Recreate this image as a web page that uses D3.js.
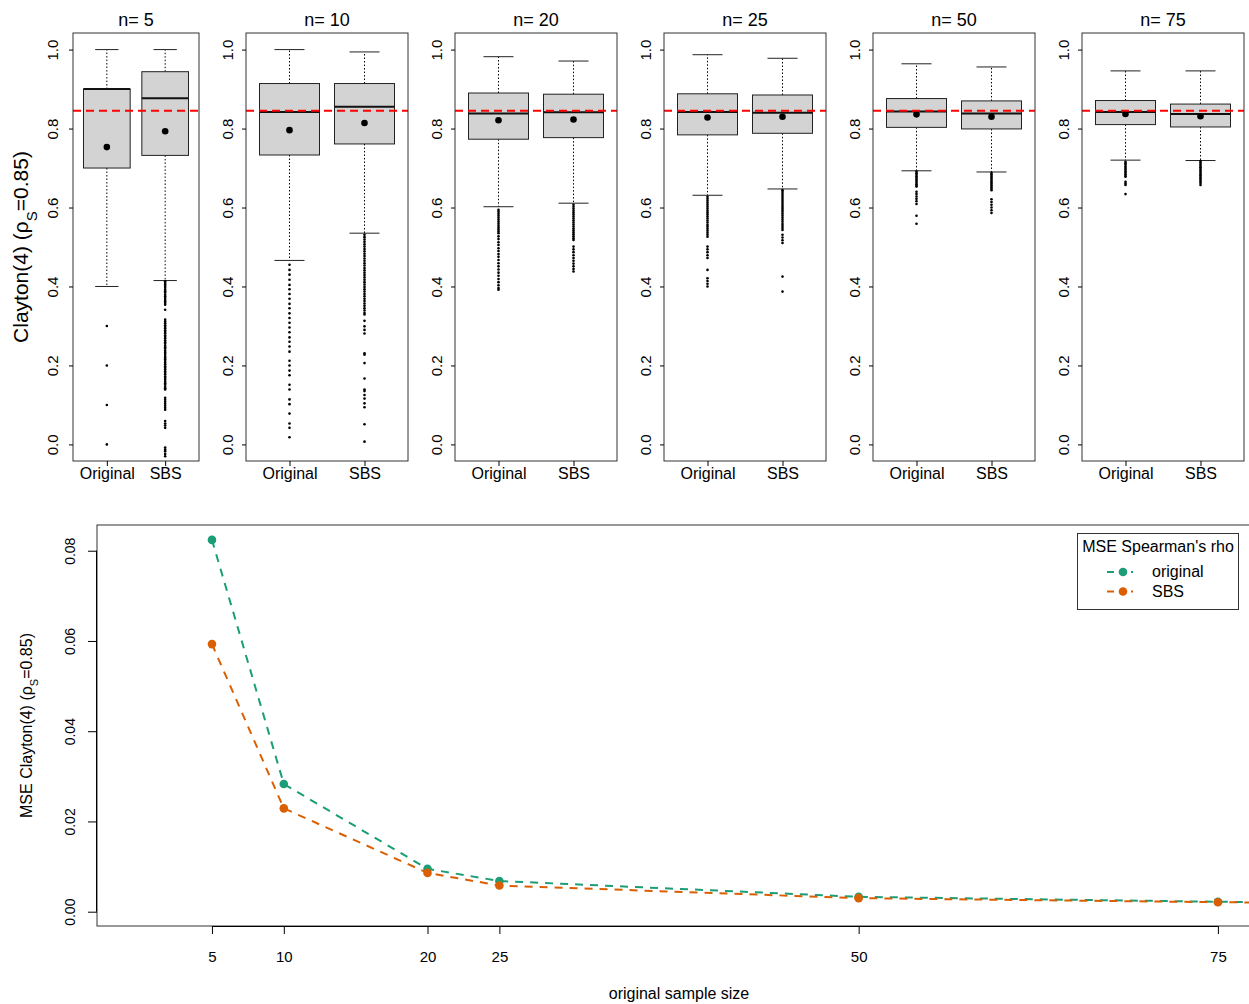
<!DOCTYPE html>
<html><head><meta charset="utf-8">
<script src="https://cdn.jsdelivr.net/npm/d3@7"></script>
<style>body{margin:0;background:#fff}svg{display:block}text{font-family:"Liberation Sans",Arial,Helvetica,sans-serif;fill:#000}</style>
</head><body><svg id="c" width="1249" height="1004"></svg>
<script>
// ---------- DATA ----------
const sampleSizes = [5, 10, 20, 25, 50, 75];
const groups = ["Original", "SBS"];
const trueRho = 0.845;
const yTicksTop = [0.0, 0.2, 0.4, 0.6, 0.8, 1.0];
// box stats [lowWhisker, q1, median, q3, highWhisker, mean]
const statsOriginal = [
  [0.40, 0.70, 0.90, 0.90, 1.00, 0.753],
  [0.466, 0.733, 0.842, 0.914, 1.00, 0.796],
  [0.602, 0.773, 0.838, 0.890, 0.982, 0.821],
  [0.631, 0.784, 0.842, 0.888, 0.987, 0.828],
  [0.693, 0.803, 0.843, 0.876, 0.964, 0.836],
  [0.720, 0.810, 0.842, 0.871, 0.946, 0.837]
];
const statsSBS = [
  [0.415, 0.732, 0.877, 0.944, 1.00, 0.793],
  [0.535, 0.761, 0.855, 0.914, 0.994, 0.814],
  [0.611, 0.777, 0.841, 0.887, 0.971, 0.823],
  [0.647, 0.788, 0.840, 0.885, 0.978, 0.830],
  [0.690, 0.799, 0.838, 0.870, 0.956, 0.830],
  [0.719, 0.804, 0.837, 0.862, 0.946, 0.831]
];
const outOriginal = [
  [0.3, 0.2, 0.1, 0.0],
  [0.455,0.442,0.430,0.417,0.404,0.393,0.381,0.369,0.356,0.345,0.332,0.320,0.308,0.296,0.284,0.271,0.260,0.248,0.235,0.212,0.200,0.187,0.175,0.151,0.139,0.114,0.102,0.078,0.053,0.042,0.018],
  [0.594,0.589,0.584,0.579,0.574,0.569,0.564,0.559,0.554,0.549,0.544,0.539,0.535,0.527,0.52,0.512,0.505,0.497,0.49,0.482,0.475,0.467,0.459,0.451,0.443,0.435,0.427,0.419,0.411,0.403,0.396,0.392],
  [0.627,0.622,0.617,0.612,0.607,0.602,0.597,0.592,0.587,0.582,0.577,0.572,0.567,0.562,0.556,0.551,0.546,0.541,0.536,0.531,0.526,0.501,0.494,0.487,0.479,0.472,0.442,0.421,0.414,0.407,0.4],
  [0.691,0.687,0.683,0.679,0.675,0.671,0.667,0.663,0.659,0.655,0.653,0.64,0.634,0.628,0.622,0.616,0.609,0.579,0.559],
  [0.716,0.712,0.708,0.704,0.7,0.696,0.692,0.688,0.684,0.68,0.678,0.665,0.661,0.657,0.634]
];
const outSBS = [
  [0.413,0.409,0.405,0.401,0.397,0.392,0.388,0.384,0.379,0.375,0.371,0.366,0.362,0.358,0.354,0.341,0.316,0.311,0.307,0.302,0.298,0.294,0.289,0.285,0.281,0.276,0.272,0.268,0.263,0.259,0.255,0.25,0.246,0.242,0.237,0.233,0.229,0.224,0.22,0.216,0.211,0.207,0.203,0.198,0.194,0.19,0.185,0.181,0.177,0.172,0.168,0.164,0.159,0.155,0.151,0.146,0.142,0.139,0.118,0.113,0.108,0.103,0.098,0.093,0.088,0.059,0.053,0.048,0.042,-0.008,-0.013,-0.017,-0.024,-0.03],
  [0.531,0.525,0.519,0.513,0.507,0.501,0.495,0.489,0.483,0.477,0.471,0.465,0.459,0.453,0.447,0.441,0.435,0.429,0.423,0.417,0.411,0.405,0.399,0.393,0.387,0.381,0.375,0.369,0.363,0.357,0.351,0.345,0.339,0.333,0.329,0.313,0.299,0.290,0.281,0.231,0.227,0.206,0.167,0.139,0.135,0.125,0.116,0.104,0.094,0.051,0.007],
  [0.607,0.602,0.597,0.592,0.587,0.582,0.577,0.572,0.567,0.562,0.557,0.552,0.547,0.542,0.537,0.532,0.527,0.522,0.518,0.501,0.494,0.487,0.479,0.472,0.465,0.458,0.451,0.444,0.438],
  [0.644,0.639,0.634,0.629,0.624,0.619,0.614,0.609,0.604,0.599,0.594,0.589,0.584,0.579,0.574,0.569,0.564,0.558,0.553,0.548,0.543,0.531,0.524,0.517,0.51,0.425,0.387],
  [0.688,0.684,0.68,0.676,0.672,0.668,0.664,0.66,0.656,0.652,0.648,0.644,0.621,0.614,0.607,0.6,0.593,0.586],
  [0.718,0.714,0.71,0.706,0.702,0.698,0.694,0.69,0.686,0.682,0.678,0.674,0.67,0.666,0.662,0.657]
];
// MSE line chart
const mseSizes = [5, 10, 20, 25, 50, 75, 100];
const mseOriginal = [0.0824, 0.0283, 0.0095, 0.0068, 0.0033, 0.0022, 0.0016];
const mseSBS = [0.0593, 0.0229, 0.0086, 0.0058, 0.0030, 0.0021, 0.0015];
const xTicksBottom = [5, 10, 20, 25, 50, 75];
const yTicksBottom = [0.00, 0.02, 0.04, 0.06, 0.08];
const seriesNames = ["original", "SBS"];
const seriesColors = ["#1B9E77", "#D95F02"];

// ---------- DRAW ----------
const svg = d3.select("#c");
const FF = '"Liberation Sans",Arial,sans-serif';
const fmt1 = d3.format(".1f"), fmt2 = d3.format(".2f");
const pTop = 33, pBot = 461;
const y = d3.scaleLinear().domain([-0.042, 1.042]).range([pBot, pTop]);

sampleSizes.forEach((n, i) => {
  const left = i === 0 ? 73 : 246 + (i - 1) * 209;
  const right = i === 0 ? 199 : left + 162;
  const x = d3.scaleLinear().domain([0.42, 2.58]).range([left, right]);
  const bw = (x(1.4) - x(0.6));
  const g = svg.append("g");
  const clipId = "clip" + i;
  svg.append("clipPath").attr("id", clipId).append("rect")
    .attr("x", left).attr("y", pTop).attr("width", right - left).attr("height", pBot - pTop);

  [statsOriginal[i], statsSBS[i]].forEach((s, k) => {
    const cx = x(k + 1);
    const [lo, q1, med, q3, hi, mean] = s;
    g.append("line").attr("x1", cx).attr("x2", cx).attr("y1", y(q3)).attr("y2", y(hi))
      .attr("stroke", "#000").attr("stroke-dasharray", "1.5,2").attr("stroke-width", 1);
    g.append("line").attr("x1", cx).attr("x2", cx).attr("y1", y(q1)).attr("y2", y(lo))
      .attr("stroke", "#000").attr("stroke-dasharray", "1.5,2").attr("stroke-width", 1);
    [lo, hi].forEach(v => g.append("line").attr("x1", cx - bw / 4).attr("x2", cx + bw / 4)
      .attr("y1", y(v)).attr("y2", y(v)).attr("stroke", "#222").attr("stroke-width", 1));
    g.append("rect").attr("x", cx - bw / 2).attr("y", y(q3)).attr("width", bw).attr("height", y(q1) - y(q3))
      .attr("fill", "#D3D3D3").attr("stroke", "#222").attr("stroke-width", 1);
    g.append("line").attr("x1", cx - bw / 2).attr("x2", cx + bw / 2).attr("y1", y(med)).attr("y2", y(med))
      .attr("stroke", "#111").attr("stroke-width", 2);
    const outs = k === 0 ? outOriginal[i] : outSBS[i];
    g.append("g").attr("clip-path", `url(#${clipId})`).selectAll("circle").data(outs).join("circle")
      .attr("cx", cx).attr("cy", d => y(d)).attr("r", 1.3).attr("fill", "#000");
    g.append("circle").attr("cx", cx).attr("cy", y(mean)).attr("r", 3.3).attr("fill", "#000");
  });
  g.append("line").attr("x1", left).attr("x2", right).attr("y1", y(trueRho)).attr("y2", y(trueRho))
    .attr("stroke", "#FF0000").attr("stroke-width", 2).attr("stroke-dasharray", "8,5");
  g.append("rect").attr("x", left).attr("y", pTop).attr("width", right - left).attr("height", pBot - pTop)
    .attr("fill", "none").attr("stroke", "#333").attr("stroke-width", 1);
  const ya = d3.axisLeft(y).tickValues(yTicksTop).tickFormat(fmt1).tickSize(4).tickPadding(6);
  const yg = g.append("g").attr("transform", `translate(${left},0)`).call(ya);
  yg.select(".domain").remove();
  yg.selectAll("text").attr("x", 0).attr("y", 0).attr("dy", "0.35em").attr("text-anchor", "middle")
    .attr("transform", `translate(${-(i === 0 ? 20 : 18)},0) rotate(-90)`)
    .style("font-size", "15px").style("font-family", FF);
  const xa = d3.axisBottom(x).tickValues([1, 2]).tickFormat((d) => groups[d - 1]).tickSize(5).tickPadding(2);
  const xg = g.append("g").attr("transform", `translate(0,${pBot})`).call(xa);
  xg.select(".domain").remove();
  xg.selectAll("text").style("font-size", "16px").style("font-family", FF);
  g.append("text").attr("x", (left + right) / 2).attr("y", 26).attr("text-anchor", "middle")
    .style("font-size", "18px").text("n= " + n);
});
const tl = svg.append("text").attr("transform", `translate(28,${(pTop + pBot) / 2}) rotate(-90)`)
  .attr("text-anchor", "middle").style("font-size", "21px");
tl.append("tspan").text("Clayton(4) (ρ");
tl.append("tspan").attr("baseline-shift", "sub").style("font-size", "15px").text("S");
tl.append("tspan").text("=0.85)");

// ---------- bottom chart ----------
const bL = 97, bR = 1330, bT = 525, bB = 926;
const xb = d3.scaleLinear().domain([-3.0, 82.8]).range([bL, bR]);
const yb = d3.scaleLinear().domain([-0.00317, 0.0857]).range([bB, bT]);
svg.append("clipPath").attr("id", "clipB").append("rect").attr("x", bL).attr("y", bT).attr("width", bR - bL).attr("height", bB - bT);
const bg = svg.append("g");
[mseOriginal, mseSBS].forEach((vals, k) => {
  const pts = mseSizes.map((s, j) => [s, vals[j]]);
  bg.append("path").attr("clip-path", "url(#clipB)").datum(pts)
    .attr("d", d3.line().x(d => xb(d[0])).y(d => yb(d[1])))
    .attr("fill", "none").attr("stroke", seriesColors[k]).attr("stroke-width", 2).attr("stroke-dasharray", "8,7");
  bg.append("g").attr("clip-path", "url(#clipB)").selectAll("circle").data(pts).join("circle")
    .attr("cx", d => xb(d[0])).attr("cy", d => yb(d[1])).attr("r", 4.3).attr("fill", seriesColors[k]);
});
bg.append("rect").attr("x", bL).attr("y", bT).attr("width", bR - bL).attr("height", bB - bT)
  .attr("fill", "none").attr("stroke", "#333").attr("stroke-width", 1);
const xbg = bg.append("g").attr("transform", `translate(0,${bB})`)
  .call(d3.axisBottom(xb).tickValues(xTicksBottom).tickSize(8).tickPadding(17).tickFormat(d3.format("d")));
xbg.select(".domain").attr("d", `M${xb(5)},0.5H${xb(75)}`).attr("stroke", "#000");
xbg.selectAll("text").style("font-size", "15px").style("font-family", FF);
const ybg = bg.append("g").attr("transform", `translate(${bL},0)`)
  .call(d3.axisLeft(yb).tickValues(yTicksBottom).tickSize(9).tickPadding(6).tickFormat(fmt2));
ybg.select(".domain").attr("d", `M-0.5,${yb(0)}V${yb(0.08)}`).attr("stroke", "#000");
ybg.selectAll("text").attr("x", null).attr("dy", "0.35em").attr("text-anchor", "middle")
  .attr("transform", "translate(-27,0) rotate(-90)")
  .style("font-size", "14px").style("font-family", FF);
svg.append("text").attr("x", 679).attr("y", 999).attr("text-anchor", "middle").style("font-size", "16px").text("original sample size");
const bl = svg.append("text").attr("transform", `translate(32,${(bT + bB) / 2}) rotate(-90)`)
  .attr("text-anchor", "middle").style("font-size", "16px");
bl.append("tspan").text("MSE Clayton(4) (ρ");
bl.append("tspan").attr("baseline-shift", "sub").style("font-size", "11px").text("S");
bl.append("tspan").text("=0.85)");

// legend
const lg = svg.append("g");
lg.append("rect").attr("x", 1077.5).attr("y", 533.5).attr("width", 161).attr("height", 76)
  .attr("fill", "#fff").attr("stroke", "#333");
lg.append("text").attr("x", 1158).attr("y", 552).attr("text-anchor", "middle").style("font-size", "16px").text("MSE Spearman's rho");
seriesNames.forEach((nm, k) => {
  const yy = 572 + k * 19.5;
  lg.append("line").attr("x1", 1107).attr("x2", 1133).attr("y1", yy).attr("y2", yy)
    .attr("stroke", seriesColors[k]).attr("stroke-width", 2).attr("stroke-dasharray", "7,5");
  lg.append("circle").attr("cx", 1123).attr("cy", yy).attr("r", 4.3).attr("fill", seriesColors[k]);
  lg.append("text").attr("x", 1152).attr("y", yy + 5).style("font-size", "16px").text(nm);
});
</script></body></html>
